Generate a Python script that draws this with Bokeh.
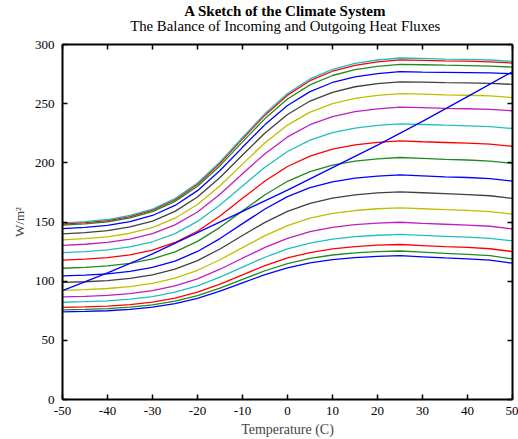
from bokeh.plotting import figure
from bokeh.layouts import column
from bokeh.models import LinearAxis, Range1d, Label, FixedTicker
from bokeh.embed import file_html
from bokeh.resources import INLINE

# Temperature grid (C)
temps = [-50, -45, -40, -35, -30, -25, -20, -15, -10, -5, 0, 5, 10, 15, 20, 25, 30, 35, 40, 45, 50]

# Absorbed heat flux curves (W/m^2), bottom to top
c01 = [74.0, 74.4, 75.0, 76.1, 78.0, 81.0, 85.5, 91.6, 98.6, 105.5, 111.3, 115.5, 118.2, 119.9, 120.9, 121.5, 120.6, 119.6, 118.9, 117.7, 115.2]
c02 = [75.8, 76.2, 76.8, 78.0, 80.0, 83.2, 87.8, 94.2, 101.5, 108.8, 114.8, 119.2, 122.1, 123.9, 124.9, 125.5, 124.5, 123.5, 122.7, 121.5, 118.8]
c03 = [77.8, 78.2, 78.9, 80.2, 82.3, 85.7, 90.7, 97.5, 105.4, 113.1, 119.6, 124.2, 127.3, 129.2, 130.4, 131.0, 130.1, 129.2, 128.5, 127.4, 125.0]
c04 = [82.2, 82.7, 83.4, 84.8, 87.0, 90.7, 96.1, 103.4, 111.9, 120.2, 127.2, 132.2, 135.6, 137.6, 138.8, 139.5, 138.7, 137.9, 137.2, 136.2, 134.0]
c05 = [86.7, 87.2, 88.0, 89.5, 92.0, 96.0, 102.0, 110.1, 119.4, 128.5, 136.2, 141.8, 145.5, 147.7, 149.0, 149.8, 148.9, 148.1, 147.4, 146.4, 144.1]
c06 = [92.3, 92.9, 93.8, 95.4, 98.2, 102.6, 109.2, 118.1, 128.4, 138.5, 147.0, 153.2, 157.2, 159.7, 161.2, 162.0, 161.2, 160.4, 159.8, 158.8, 156.7]
c07 = [98.9, 99.5, 100.5, 102.4, 105.3, 110.2, 117.4, 127.2, 138.6, 149.7, 159.0, 165.8, 170.2, 173.0, 174.6, 175.5, 174.7, 173.9, 173.2, 172.2, 170.0]
c08 = [104.4, 105.1, 106.2, 108.2, 111.6, 117.0, 125.1, 136.0, 148.6, 161.0, 171.4, 179.0, 183.9, 187.0, 188.8, 189.8, 189.0, 188.2, 187.6, 186.6, 184.5]
c09 = [110.9, 111.7, 112.9, 115.1, 118.8, 124.8, 133.6, 145.5, 159.4, 173.0, 184.4, 192.6, 198.0, 201.4, 203.4, 204.5, 203.8, 203.0, 202.4, 201.5, 199.5]
c10 = [117.8, 118.6, 119.9, 122.3, 126.3, 132.7, 142.2, 155.1, 170.0, 184.6, 196.9, 205.7, 211.6, 215.2, 217.3, 218.5, 217.8, 217.2, 216.6, 215.8, 214.0]
c11 = [124.1, 125.0, 126.4, 129.0, 133.3, 140.2, 150.5, 164.4, 180.5, 196.3, 209.6, 219.2, 225.5, 229.4, 231.7, 233.0, 232.4, 231.8, 231.3, 230.6, 229.0]
c12 = [130.3, 131.2, 132.8, 135.6, 140.1, 147.6, 158.5, 173.5, 190.8, 207.7, 221.9, 232.2, 239.0, 243.2, 245.6, 247.0, 246.6, 246.1, 245.7, 245.2, 244.0]
c13 = [134.9, 135.9, 137.5, 140.5, 145.3, 153.2, 164.8, 180.6, 198.9, 216.9, 231.9, 242.8, 250.0, 254.4, 257.0, 258.5, 258.0, 257.5, 257.1, 256.5, 255.1]
c14 = [140.0, 141.0, 142.7, 145.8, 150.8, 159.0, 171.1, 187.6, 206.6, 225.2, 240.9, 252.2, 259.6, 264.3, 267.0, 268.5, 268.2, 267.8, 267.6, 267.2, 266.3]
c15 = [144.4, 145.5, 147.2, 150.4, 155.5, 164.0, 176.5, 193.5, 213.1, 232.3, 248.5, 260.2, 267.9, 272.6, 275.4, 277.0, 276.7, 276.5, 276.3, 276.0, 275.3]
c16 = [147.3, 148.4, 150.2, 153.4, 158.7, 167.4, 180.2, 197.6, 217.7, 237.4, 254.0, 265.9, 273.8, 278.7, 281.6, 283.2, 282.9, 282.5, 282.2, 281.8, 280.9]
c17 = [148.3, 149.4, 151.2, 154.5, 160.0, 168.8, 181.9, 199.6, 220.2, 240.3, 257.2, 269.4, 277.4, 282.4, 285.3, 287.0, 286.6, 286.2, 285.9, 285.4, 284.3]
c18 = [149.2, 150.3, 152.1, 155.5, 160.9, 169.8, 182.9, 200.8, 221.4, 241.6, 258.6, 270.9, 279.0, 284.0, 286.9, 288.6, 288.2, 287.7, 287.4, 286.9, 285.7]

# Outgoing flux line
olr_temps = [-50, -40, -30, -20, -10, 0, 10, 20, 30, 40, 50]
olr = [92, 107, 123, 141, 159, 177, 196, 215, 235, 256, 277]

x_ticks = [-50, -40, -30, -20, -10, 0, 10, 20, 30, 40, 50]
y_ticks = [0, 50, 100, 150, 200, 250, 300]

title_text = "A Sketch of the Climate System"
subtitle_text = "The Balance of Incoming and Outgoing Heat Fluxes"
x_label = "Temperature (C)"
y_label = "W/m\u00b2"

curves = [c01, c02, c03, c04, c05, c06, c07, c08, c09, c10, c11, c12, c13, c14, c15, c16, c17, c18]
palette = ["#0000ff", "#1f8a1f", "#ff0000", "#1fbfbf", "#bf1fbf", "#bfbf00", "#404040"]

FONT = "Liberation Serif"
W = 518
HEAD = 36

# ---- heading strip (titles) ----
head = figure(width=W, height=HEAD, x_range=Range1d(-50, 50), y_range=Range1d(HEAD, 0),
              output_backend="svg", toolbar_location=None,
              x_axis_type=None, y_axis_type=None,
              min_border_left=62, min_border_right=6, min_border_top=0, min_border_bottom=0)
head.outline_line_color = None
head.grid.visible = False
head.add_layout(Label(x=-0.5, y=10.0, text=title_text, text_align="center", text_baseline="alphabetic",
                      text_font=FONT, text_font_size="15px", text_font_style="bold", text_color="black"))
head.add_layout(Label(x=-0.5, y=25.5, text=subtitle_text, text_align="center", text_baseline="alphabetic",
                      text_font=FONT, text_font_size="14.8px", text_color="black"))

# ---- main chart ----
p = figure(width=W, height=439 - HEAD, x_range=Range1d(-50, 50), y_range=Range1d(0, 300),
           output_backend="svg", toolbar_location=None,
           min_border_left=62, min_border_right=6, min_border_top=8, min_border_bottom=39)
p.outline_line_color = None
p.grid.visible = False
p.background_fill_color = "white"
p.border_fill_color = "white"

for i, c in enumerate(curves):
    p.line(temps, c, line_color=palette[i % len(palette)], line_width=1.3)

p.line(olr_temps, olr, line_color="#0000ff", line_width=1.3)

def style_axis(ax, ticks, labels=True):
    ax.ticker = FixedTicker(ticks=ticks)
    ax.axis_line_color = "black"
    ax.axis_line_width = 2
    ax.major_tick_line_color = "black"
    ax.major_tick_line_width = 1.5
    ax.major_tick_in = 5
    ax.major_tick_out = 0
    ax.minor_tick_line_color = None
    ax.major_label_text_font = FONT
    ax.major_label_text_font_size = "13px"
    if labels:
        ax.major_label_text_color = "black"
        ax.major_label_overrides = {t: str(t) for t in ticks}
    else:
        ax.major_label_text_color = None
        ax.major_label_overrides = {t: "" for t in ticks}
        ax.major_label_standoff = 0

xa = p.xaxis[0]
ya = p.yaxis[0]
style_axis(xa, x_ticks)
style_axis(ya, y_ticks)
xa.major_label_standoff = 7
xa.axis_label = x_label
xa.axis_label_text_font = FONT
xa.axis_label_text_font_size = "14px"
xa.axis_label_text_font_style = "normal"
xa.axis_label_standoff = 4
ya.major_label_standoff = 8
ya.axis_label = y_label
ya.axis_label_text_font = FONT
ya.axis_label_text_font_size = "13px"
ya.axis_label_text_font_style = "normal"
ya.axis_label_standoff = 5

top = LinearAxis()
style_axis(top, x_ticks, labels=False)
p.add_layout(top, "above")
right = LinearAxis()
style_axis(right, y_ticks, labels=False)
p.add_layout(right, "right")

layout = column(head, p, spacing=0)
open("out.html", "w").write(file_html(layout, INLINE))
